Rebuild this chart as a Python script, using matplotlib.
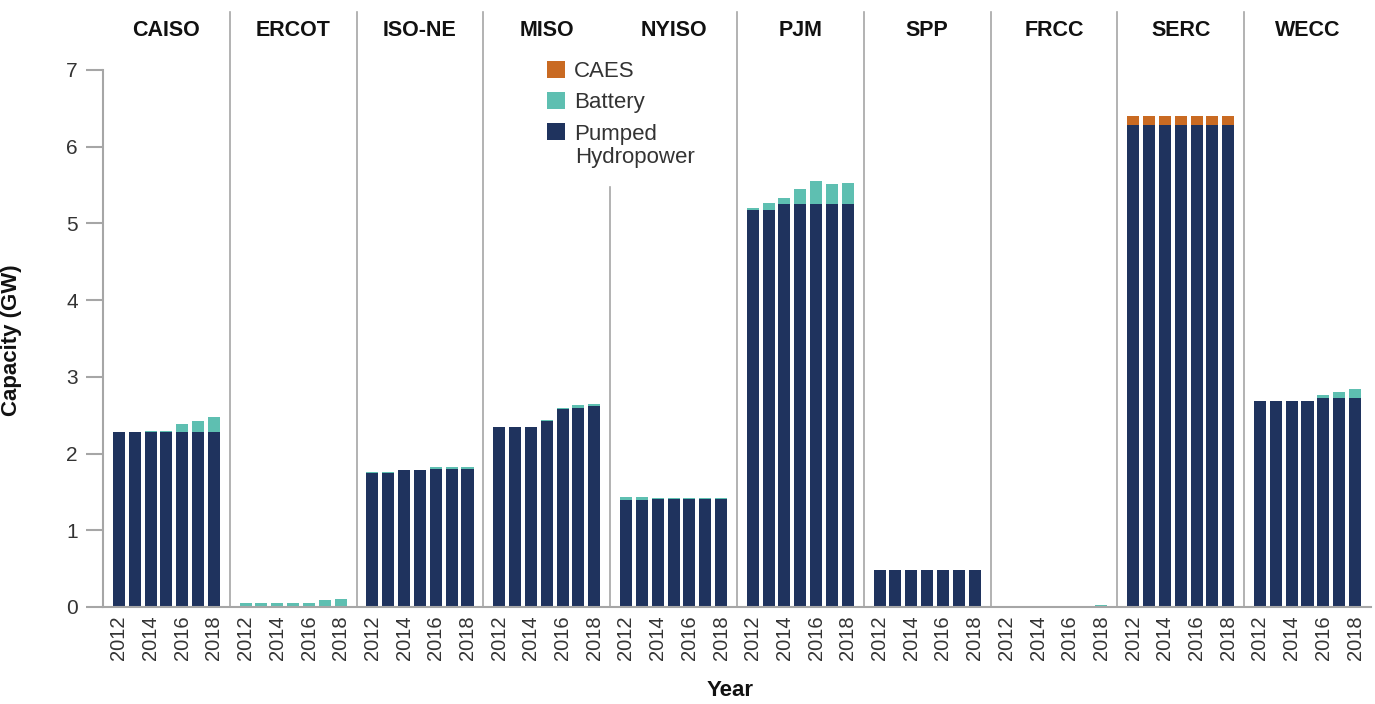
import numpy as np
import matplotlib
matplotlib.use("Agg")
import matplotlib.pyplot as plt

plt.rcParams['font.family'] = ['Liberation Sans', 'DejaVu Sans']

regions = ["CAISO", "ERCOT", "ISO-NE", "MISO", "NYISO", "PJM", "SPP", "FRCC", "SERC", "WECC"]
years = [2012, 2013, 2014, 2015, 2016, 2017, 2018]

# capacity in GW, one list per region (2012..2018)
pumped = {
    "CAISO":  [2.28, 2.28, 2.28, 2.28, 2.28, 2.28, 2.28],
    "ERCOT":  [0, 0, 0, 0, 0, 0, 0],
    "ISO-NE": [1.75, 1.75, 1.78, 1.78, 1.80, 1.80, 1.80],
    "MISO":   [2.34, 2.34, 2.34, 2.43, 2.58, 2.60, 2.62],
    "NYISO":  [1.40, 1.40, 1.41, 1.41, 1.41, 1.41, 1.41],
    "PJM":    [5.17, 5.18, 5.25, 5.25, 5.25, 5.25, 5.25],
    "SPP":    [0.48, 0.48, 0.48, 0.48, 0.48, 0.48, 0.48],
    "FRCC":   [0, 0, 0, 0, 0, 0, 0],
    "SERC":   [6.28, 6.28, 6.28, 6.28, 6.28, 6.28, 6.28],
    "WECC":   [2.68, 2.68, 2.68, 2.68, 2.72, 2.72, 2.72],
}
battery = {
    "CAISO":  [0, 0, 0.01, 0.01, 0.10, 0.15, 0.20],
    "ERCOT":  [0.05, 0.05, 0.05, 0.05, 0.05, 0.09, 0.10],
    "ISO-NE": [0.01, 0.01, 0, 0, 0.02, 0.02, 0.03],
    "MISO":   [0.01, 0.01, 0.01, 0.01, 0.02, 0.03, 0.03],
    "NYISO":  [0.04, 0.03, 0.01, 0.01, 0.01, 0.01, 0.01],
    "PJM":    [0.03, 0.08, 0.08, 0.20, 0.30, 0.27, 0.28],
    "SPP":    [0, 0, 0.006, 0.006, 0.006, 0.006, 0.006],
    "FRCC":   [0, 0, 0, 0, 0, 0, 0.02],
    "SERC":   [0, 0, 0, 0, 0, 0, 0],
    "WECC":   [0, 0, 0, 0, 0.04, 0.08, 0.12],
}
caes = {
    "SERC":   [0.12, 0.12, 0.12, 0.12, 0.12, 0.12, 0.12],
}

navy = "#1f335e"
teal = "#5ebfb1"
orange = "#c96a22"
grey = "#a6a6a6"
txt = "#333333"

fig = plt.figure(figsize=(13.75, 7.04), dpi=100)
ax = fig.add_axes([0.0749, 0.1378, 0.9221, 0.7628])

n = len(years)
slot = n + 1
xt, xl = [], []
for k, r in enumerate(regions):
    x = k * slot + 1 + np.arange(n)
    p = np.array(pumped[r])
    b = np.array(battery[r])
    c = np.array(caes.get(r, [0] * n))
    ax.bar(x, p, width=0.76, color=navy, label="Pumped" if k == 0 else None)
    ax.bar(x, b, width=0.76, bottom=p, color=teal, label="Battery" if k == 0 else None)
    ax.bar(x, c, width=0.76, bottom=p + b, color=orange, label="CAES" if k == 0 else None)
    for i in range(0, n, 2):
        xt.append(x[i])
        xl.append(str(years[i]))
    ax.text(k * slot + slot / 2, 7.52, r, ha="center", va="center",
            fontsize=15.5, fontweight="bold", color="#111111")
    if k > 0:
        top = 5.48 if r == "NYISO" else 7.75
        ax.plot([k * slot, k * slot], [0, top], color=grey, lw=1.2, clip_on=False)

ax.set_xlim(0, slot * len(regions))
ax.set_ylim(0, 7)
ax.set_xticks(xt)
ax.set_xticklabels(xl, rotation=90, fontsize=14.5, color=txt)
ax.tick_params(axis="x", length=0, pad=6)
ax.set_yticks(range(8))
ax.tick_params(axis="y", labelsize=15, colors=grey, labelcolor=txt, length=12, width=1.5, pad=6)
for s in ["top", "right"]:
    ax.spines[s].set_visible(False)
ax.spines["left"].set_color(grey)
ax.spines["bottom"].set_color(grey)
ax.spines["left"].set_linewidth(1.5)
ax.spines["bottom"].set_linewidth(1.5)

fig.text(12 / 1375, 1 - 340 / 704, "Capacity (GW)", rotation=90, ha="center", va="center",
         fontsize=16, fontweight="bold", color="#111111")
fig.text(730 / 1375, 1 - 691 / 704, "Year", ha="center", va="center",
         fontsize=16, fontweight="bold", color="#111111")

h, l = ax.get_legend_handles_labels()
leg = ax.legend(h[::-1], l[::-1], loc="upper left", bbox_to_anchor=(547 / 1375, 1 - 61 / 704),
                bbox_transform=fig.transFigure, frameon=False, borderpad=0, borderaxespad=0,
                fontsize=16, handlelength=0.8, handleheight=0.8, handletextpad=0.4,
                labelspacing=0.45, labelcolor=txt)
# second line of the "Pumped Hydropower" entry, kept under the text
fig.text(575 / 1375, 1 - 157 / 704, "Hydropower", ha="left", va="center",
         fontsize=16, color=txt)

fig.savefig("out.png", dpi=100)
